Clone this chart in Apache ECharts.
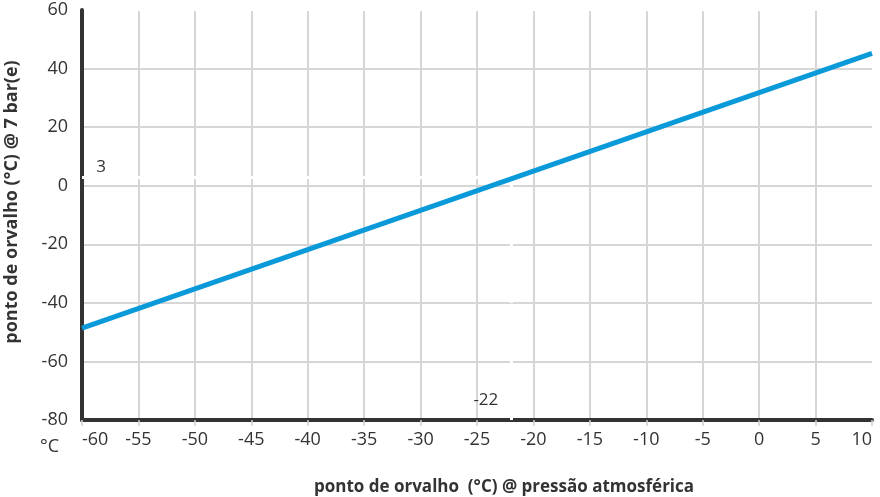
<!DOCTYPE html>
<html>
<head>
<meta charset="utf-8">
<script src="https://cdn.jsdelivr.net/npm/echarts@6/dist/echarts.min.js"></script>
<style>html,body{margin:0;padding:0;background:#fff}#c{width:880px;height:497px}</style>
</head>
<body>
<div id="c"></div>
<script>
// Data
var xAtm = [-60, -50, -40, -30, -20, -10, 0, 10];           // dew point at atmospheric pressure (°C)
var y7bar = [-48.6, -35.2, -21.8, -8.4, 5.0, 18.4, 31.8, 45.2]; // dew point at 7 bar(e) (°C)
var markX = -22;   // highlighted atmospheric dew point
var markY = 3;     // corresponding pressure dew point
var xTitle = 'ponto de orvalho  (°C) @ pressão atmosférica';
var yTitle = 'ponto de orvalho (°C) @ 7 bar(e)';
var unitLabel = '°C';

var FONT = 'Open Sans';
var chart = echarts.init(document.getElementById('c'));
var pts = xAtm.map(function (x, i) { return [x, y7bar[i]]; });

chart.setOption({
  animation: false,
  grid: { left: 82, right: 8, top: 10, bottom: 77 },
  xAxis: {
    type: 'value', min: -60, max: 10, interval: 5,
    axisLine: { show: true, onZero: false, lineStyle: { color: '#333', width: 4 } },
    axisTick: { show: true, length: 6, lineStyle: { color: '#cfcfcf', width: 1.5 } },
    axisLabel: { color: '#333', fontFamily: FONT, fontSize: 18, margin: 11, alignMinLabel: 'left', alignMaxLabel: 'right' },
    splitLine: { show: true, showMaxLine: false, lineStyle: { color: '#d6d6d6', width: 2 } }
  },
  yAxis: {
    type: 'value', min: -80, max: 60, interval: 20,
    axisLine: { show: true, onZero: false, lineStyle: { color: '#333', width: 4 } },
    axisTick: { show: false },
    axisLabel: { color: '#333', fontFamily: FONT, fontSize: 18, margin: 14 },
    splitLine: { show: true, showMaxLine: false, lineStyle: { color: '#d6d6d6', width: 2 } }
  },
  series: [{
    type: 'line',
    data: pts,
    symbol: 'none',
    lineStyle: { color: '#0a9ad9', width: 5 },
    z: 3,
    markLine: {
      silent: true, symbol: 'none', z: 2,
      lineStyle: { color: '#ffffff', width: 3, type: [6, 2] },
      label: { show: false },
      data: [
        [{ coord: [-60, markY] }, { coord: [markX, markY] }],
        [{ coord: [markX, markY] }, { coord: [markX, -80] }]
      ]
    },
    markPoint: {
      silent: true, symbol: 'circle', symbolSize: 1,
      itemStyle: { color: 'rgba(0,0,0,0)' },
      label: { show: true, color: '#333', fontFamily: FONT, fontSize: 17 },
      data: [
        { coord: [-60, markY], value: markY, label: { offset: [19, -10] } },
        { coord: [markX, -80], value: markX, label: { offset: [-25, -20] } }
      ]
    }
  }],
  graphic: [
    // hide the split lines that fall on the top and right edges of the plot
    { type: 'rect', z: 100, silent: true, shape: { x: 85, y: 8, width: 792, height: 3 }, style: { fill: '#fff' } },
    { type: 'rect', z: 100, silent: true, shape: { x: 872, y: 0, width: 8, height: 46 }, style: { fill: '#fff' } },
    { type: 'rect', z: 100, silent: true, shape: { x: 872, y: 60, width: 8, height: 358 }, style: { fill: '#fff' } },
    { type: 'text', left: 40, top: 438, style: { text: unitLabel, fill: '#333', font: '18px "' + FONT + '"' } },
    { type: 'text', x: 504, y: 487, style: { text: xTitle, fill: '#333', font: 'bold 17px "' + FONT + '"', textAlign: 'center', textVerticalAlign: 'middle' } },
    { type: 'text', x: 12, y: 202, rotation: Math.PI / 2, style: { text: yTitle, fill: '#333', font: 'bold 18px "' + FONT + '"', textAlign: 'center', textVerticalAlign: 'middle' } }
  ]
});
</script>
</body>
</html>
